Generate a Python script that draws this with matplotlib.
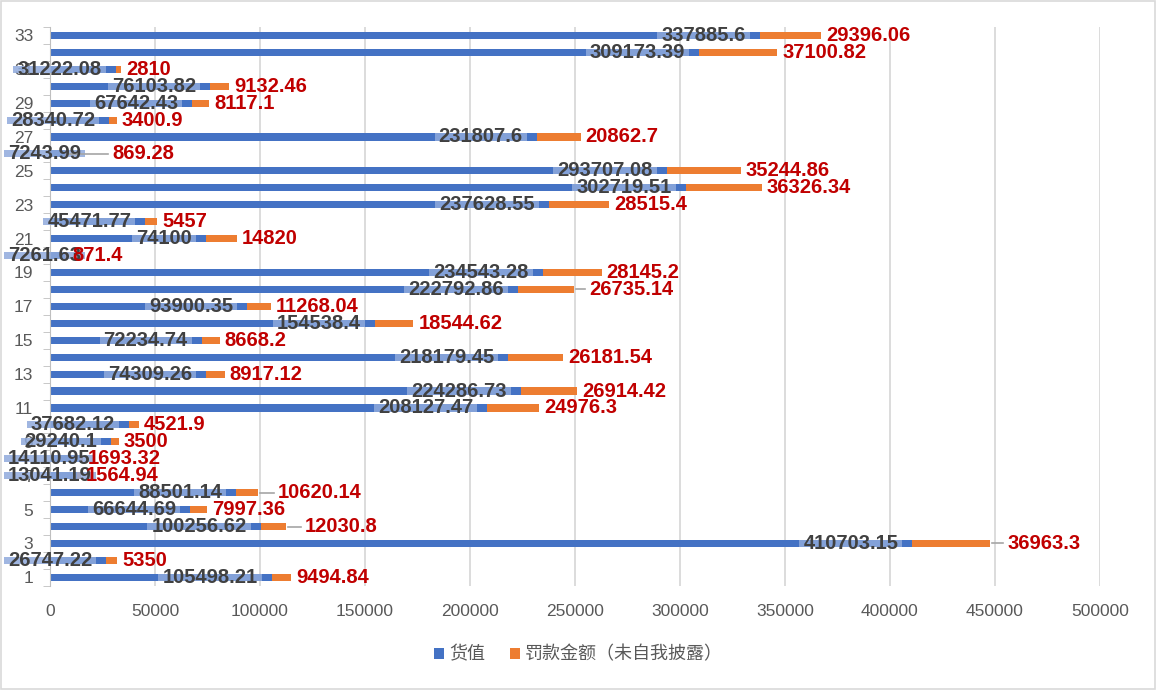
import matplotlib
matplotlib.use('Agg')
import matplotlib.pyplot as plt
from matplotlib.patches import Rectangle
import numpy as np

plt.rcParams['font.family'] = ['Liberation Sans', 'Noto Sans CJK SC', 'DejaVu Sans']

# 数据：序号、货值、罚款金额（未自我披露）
categories = list(range(1, 34))
goods_value = [105498.21, 26747.22, 410703.15, 100256.62, 66644.69, 88501.14, 13041.19,
               14110.95, 29240.1, 37682.12, 208127.47, 224286.73, 74309.26, 218179.45,
               72234.74, 154538.4, 93900.35, 222792.86, 234543.28, 7261.63, 74100,
               45471.77, 237628.55, 302719.51, 293707.08, 7243.99, 231807.6, 28340.72,
               67642.43, 76103.82, 31222.08, 309173.39, 337885.6]
fine_amount = [9494.84, 5350, 36963.3, 12030.8, 7997.36, 10620.14, 1564.94,
               1693.32, 3500, 4521.9, 24976.3, 26914.42, 8917.12, 26181.54,
               8668.2, 18544.62, 11268.04, 26735.14, 28145.2, 871.4, 14820,
               5457, 28515.4, 36326.34, 35244.86, 869.28, 20862.7, 3400.9,
               8117.1, 9132.46, 2810, 37100.82, 29396.06]

# 有引导线的标签（序号: 额外右移像素）
leader_push = {3: 12, 4: 14, 6: 15, 18: 10, 26: 40}

BLUE = '#4472C4'
ORANGE = '#ED7D31'
BAR_H = 0.42


def fmt(v):
    return ('%.2f' % v).rstrip('0').rstrip('.')


fig = plt.figure(figsize=(11.57, 6.9), dpi=100)
ax = fig.add_axes([0.0432, 0.151, 0.9075, 0.81])

ax.barh(categories, goods_value, height=BAR_H, color=BLUE, label='货值', zorder=2)
ax.barh(categories, fine_amount, left=goods_value, height=BAR_H, color=ORANGE,
        label='罚款金额（未自我披露）', zorder=2)

ax.set_xlim(0, 500000)
ax.set_ylim(0.5, 33.5)
ax.set_xticks(np.arange(0, 500001, 50000))
ax.set_yticks(categories[::2])
ax.set_yticks(np.arange(0.5, 34, 1), minor=True)
ax.tick_params(axis='x', length=0, pad=13, labelsize=12.5, labelcolor='#595959')
ax.tick_params(axis='y', which='major', length=0, pad=12, labelsize=12.5, labelcolor='#595959')
ax.tick_params(axis='y', which='minor', length=5, color='#bfbfbf')
ax.grid(axis='x', color='#d9d9d9', lw=1.3)
ax.set_axisbelow(True)
for s in ['top', 'right', 'bottom']:
    ax.spines[s].set_visible(False)
ax.spines['left'].set_color('#bfbfbf')

blue_texts = []
red_texts = []
for c, g, f in zip(categories, goods_value, fine_amount):
    t = ax.annotate(fmt(g), (g, c), xytext=(-14, 0), textcoords='offset pixels',
                    ha='right', va='center', fontsize=14.5, fontweight='bold',
                    color='#404040', zorder=4)
    blue_texts.append(t)
    push = leader_push.get(c, 0)
    t2 = ax.annotate(fmt(f), (g + f, c), xytext=(5 + push, 0), textcoords='offset pixels',
                     ha='left', va='center', fontsize=14.5, fontweight='bold',
                     color='#C00000', zorder=4)
    red_texts.append(t2)

fig.canvas.draw()
renderer = fig.canvas.get_renderer()
# 太靠左的标签往右挪
for t in blue_texts:
    bb = t.get_window_extent(renderer)
    if bb.x0 < 8:
        t.xyann = (t.xyann[0] + (8 - bb.x0), 0)
fig.canvas.draw()

inv = ax.transData.inverted()
for c, t in zip(categories, blue_texts):
    bb = t.get_window_extent(renderer)
    x0 = inv.transform((bb.x0 - 4, 0))[0]
    x1 = inv.transform((bb.x1 + 4, 0))[0]
    ax.add_patch(Rectangle((x0, c - BAR_H / 2), x1 - x0, BAR_H, facecolor='#8FAADC',
                           alpha=0.85, edgecolor='none', zorder=3, clip_on=False))

for c, g, f, t in zip(categories, goods_value, fine_amount, red_texts):
    if c in leader_push:
        bb = t.get_window_extent(renderer)
        end_px = ax.transData.transform((g + f, c))[0]
        xa = inv.transform((end_px + 2, 0))[0]
        xb = inv.transform((bb.x0 - 4, 0))[0]
        ax.plot([xa, xb], [c, c], color='#a6a6a6', lw=1.2, zorder=3)

fig.legend(loc='center', bbox_to_anchor=(0.5, 1 - 655 / 690), ncol=2, frameon=False,
           fontsize=13, handlelength=0.55, handleheight=0.55, handletextpad=0.25,
           columnspacing=1.4, labelcolor='#595959')

fig.patches.append(Rectangle((0.001, 0.001), 0.997, 0.997, transform=fig.transFigure,
                             fill=False, edgecolor='#d9d9d9', lw=1.2))

fig.savefig('out.png', dpi=100)
